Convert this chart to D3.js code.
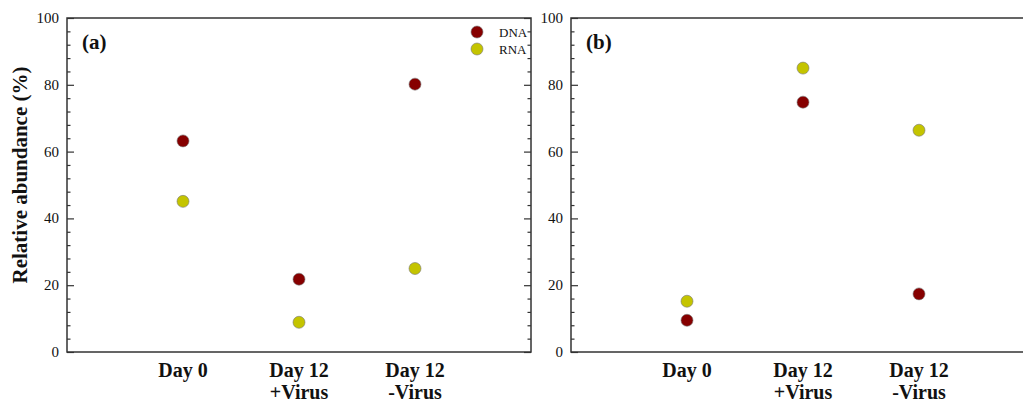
<!DOCTYPE html>
<html>
<head>
<meta charset="utf-8">
<script src="https://cdn.jsdelivr.net/npm/d3@7"></script>
<style>
  body { margin: 0; background: #fff; }
  svg { display: block; }
  text { font-family: "Liberation Serif", "Times New Roman", serif; fill: #111; }
</style>
</head>
<body>
<svg id="chart" width="1023" height="401"></svg>
<script>
// categories on the x axis (two-line labels)
const categories = [["Day 0"], ["Day 12", "+Virus"], ["Day 12", "-Virus"]];
const series = ["DNA", "RNA"];
const colors = { DNA: "#860000", RNA: "#c4c400" };

// panel (a)
const dnaA = [63.2, 21.8, 80.2];
const rnaA = [45.1, 8.9, 25.0];
// panel (b)
const dnaB = [9.5, 74.8, 17.4];
const rnaB = [15.2, 85.0, 66.4];

const yTicks = [0, 20, 40, 60, 80, 100];

const panels = [
  { label: "(a)", left: 67, dna: dnaA, rna: rnaA, legend: true },
  { label: "(b)", left: 571, dna: dnaB, rna: rnaB, legend: false }
];

const svg = d3.select("#chart");
const plotTop = 18, plotBottom = 352, pw = 464;

const yScale = d3.scaleLinear().domain([0, 100]).range([plotBottom, plotTop]);

panels.forEach(p => {
  const g = svg.append("g");
  const xScale = d3.scaleLinear().domain([0, 4]).range([p.left, p.left + pw]);

  // minor ticks (every 4 units), inward on left and right frame
  const minors = d3.range(0, 101, 4).filter(v => v % 20 !== 0);
  g.append("g").attr("transform", `translate(${p.left},0)`)
    .call(d3.axisRight(yScale).tickValues(minors).tickSize(3.5).tickFormat(""));
  g.append("g").attr("transform", `translate(${p.left + pw},0)`)
    .call(d3.axisLeft(yScale).tickValues(minors).tickSize(3.5).tickFormat(""));

  // major ticks
  g.append("g").attr("transform", `translate(${p.left},0)`)
    .call(d3.axisRight(yScale).tickValues(yTicks).tickSize(7).tickFormat(""));
  g.append("g").attr("transform", `translate(${p.left + pw},0)`)
    .call(d3.axisLeft(yScale).tickValues(yTicks).tickSize(7).tickFormat(""));

  g.selectAll(".domain").remove();
  g.selectAll(".tick line").attr("stroke", "#333").attr("stroke-width", 1.2);

  // tick labels
  g.selectAll(".ylab").data(yTicks).join("text")
    .attr("x", p.left - 8)
    .attr("y", d => yScale(d) + 5)
    .attr("text-anchor", "end")
    .style("font-size", "15px")
    .text(d => d);

  // frame
  g.append("rect")
    .attr("x", p.left).attr("y", plotTop)
    .attr("width", pw).attr("height", plotBottom - plotTop)
    .attr("fill", "none").attr("stroke", "#333").attr("stroke-width", 1.5);

  // category labels
  categories.forEach((lines, i) => {
    const t = g.append("text")
      .attr("x", xScale(i + 1)).attr("y", 377)
      .attr("text-anchor", "middle")
      .style("font-size", "20px").style("font-weight", "bold");
    lines.forEach((ln, k) => {
      t.append("tspan").attr("x", xScale(i + 1)).attr("dy", k === 0 ? 0 : 22).text(ln);
    });
  });

  // panel label
  g.append("text").attr("x", p.left + 15).attr("y", 49)
    .style("font-size", "21px").style("font-weight", "bold").text(p.label);

  // points
  [["DNA", p.dna], ["RNA", p.rna]].forEach(([name, vals]) => {
    g.selectAll(".pt-" + name).data(vals).join("circle")
      .attr("class", "pt-" + name)
      .attr("cx", (d, i) => xScale(i + 1))
      .attr("cy", d => yScale(d))
      .attr("r", 6)
      .attr("fill", colors[name])
      .attr("stroke", "#777")
      .attr("stroke-width", 0.6);
  });

  if (p.legend) {
    series.forEach((s, i) => {
      g.append("circle").attr("cx", 477).attr("cy", 32 + i * 17).attr("r", 6)
        .attr("fill", colors[s]).attr("stroke", "#777").attr("stroke-width", 0.6);
      g.append("text").attr("x", 499).attr("y", 37 + i * 17)
        .style("font-size", "13px").text(s);
    });
  }
});

// y axis title
svg.append("text")
  .attr("transform", "translate(27,175) rotate(-90)")
  .attr("text-anchor", "middle")
  .style("font-size", "21px").style("font-weight", "bold")
  .text("Relative abundance (%)");
</script>
</body>
</html>
